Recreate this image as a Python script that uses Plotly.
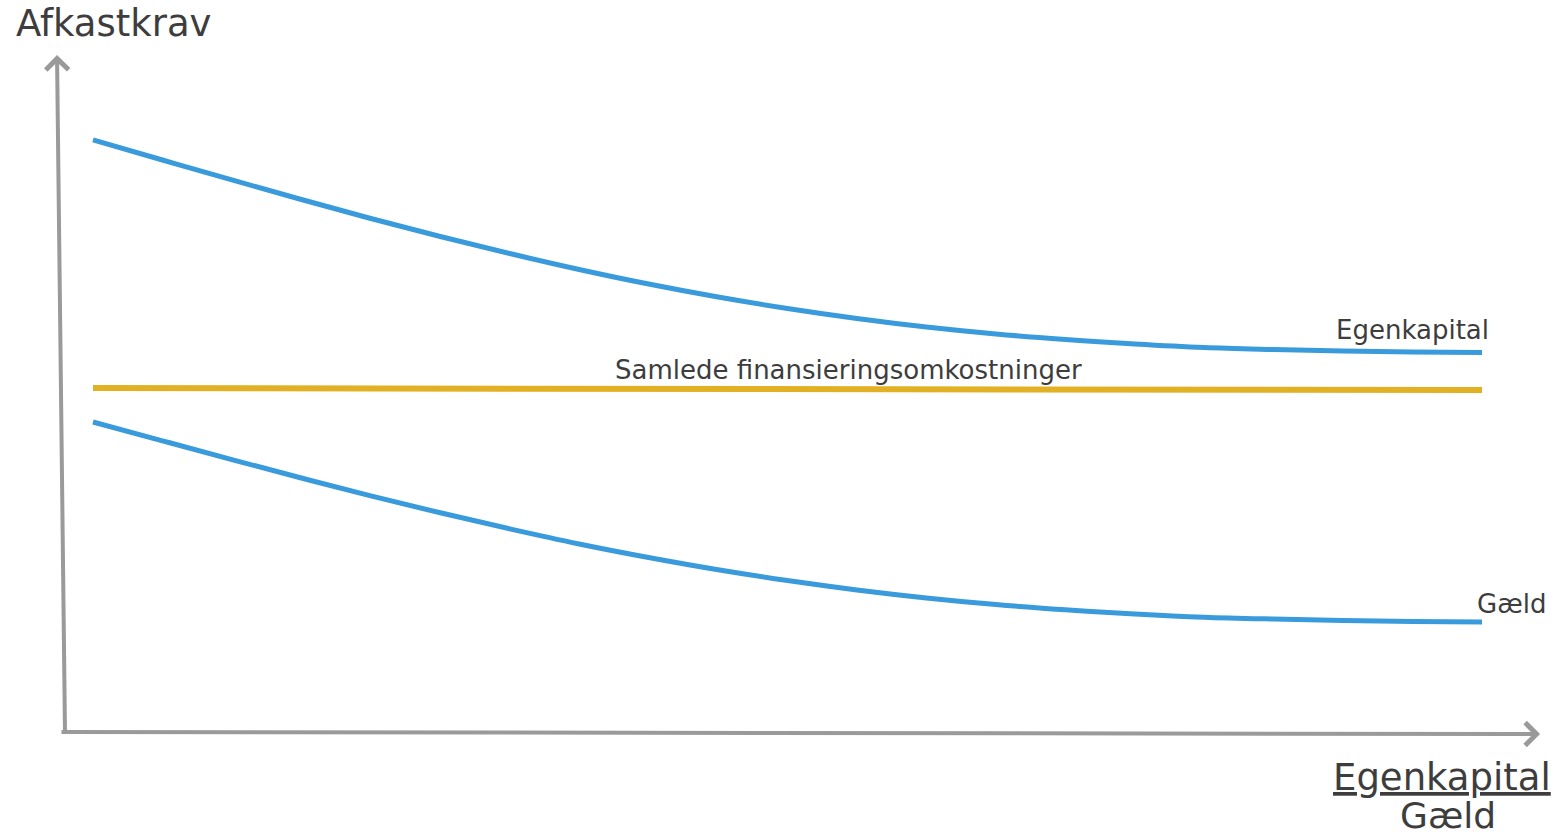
import plotly.graph_objects as go

# ---- data (x: capital structure ratio, y: required return) ----
x_vals = [0, 0.5, 1, 1.5, 2, 2.5, 3, 3.5, 4, 4.5, 5, 5.5, 6, 6.5, 7, 7.5, 8, 8.5, 9, 9.5, 10]
egenkapital = [8.745, 8.449, 8.154, 7.866, 7.585, 7.319, 7.068, 6.832, 6.617, 6.425, 6.256,
               6.108, 5.982, 5.879, 5.798, 5.731, 5.679, 5.650, 5.628, 5.613, 5.606]
gaeld = [4.579, 4.301, 4.024, 3.752, 3.487, 3.238, 3.001, 2.778, 2.578, 2.397, 2.238,
         2.099, 1.981, 1.883, 1.806, 1.744, 1.696, 1.668, 1.647, 1.634, 1.626]
samlede_x = [0, 10]
samlede = [5.08, 5.05]

BLUE = "#3a9bdc"
YELLOW = "#e2b023"
GRAY = "#9a9a9a"
TEXT = "#3d3d3d"
FONT = "DejaVu Sans"

fig = go.Figure()
fig.add_trace(go.Scatter(x=x_vals, y=egenkapital, mode="lines",
                         line=dict(color=BLUE, width=5, shape="spline"), hoverinfo="skip"))
fig.add_trace(go.Scatter(x=samlede_x, y=samlede, mode="lines",
                         line=dict(color=YELLOW, width=6), hoverinfo="skip"))
fig.add_trace(go.Scatter(x=x_vals, y=gaeld, mode="lines",
                         line=dict(color=BLUE, width=5, shape="spline"), hoverinfo="skip"))

annotations = [
    # axis arrows
    dict(x=-0.259, y=10.0, ax=-0.2016, ay=0.0, xref="x", yref="y", axref="x", ayref="y",
         text="", showarrow=True, arrowhead=4, arrowwidth=4, arrowsize=1.1,
         arrowcolor=GRAY, standoff=0, startstandoff=0),
    dict(x=10.418, y=-0.03, ax=-0.2376, ay=0.0, xref="x", yref="y", axref="x", ayref="y",
         text="", showarrow=True, arrowhead=4, arrowwidth=4, arrowsize=1.1,
         arrowcolor=GRAY, standoff=0, startstandoff=0),
    # labels
    dict(x=10.065, y=5.94, xref="x", yref="y", text="Egenkapital", showarrow=False,
         xanchor="right", yanchor="middle", font=dict(family=FONT, size=26, color=TEXT)),
    dict(x=5.44, y=5.35, xref="x", yref="y", text="Samlede finansieringsomkostninger",
         showarrow=False, xanchor="center", yanchor="middle",
         font=dict(family=FONT, size=26, color=TEXT)),
    dict(x=10.475, y=1.89, xref="x", yref="y", text="Gæld", showarrow=False,
         xanchor="right", yanchor="middle", font=dict(family=FONT, size=26, color=TEXT)),
    dict(x=14 / 1561, y=1 - 23 / 836, xref="paper", yref="paper", text="Afkastkrav",
         showarrow=False, xanchor="left", yanchor="middle",
         font=dict(family=FONT, size=37, color=TEXT)),
    dict(x=1441.5 / 1561, y=1 - 777 / 836, xref="paper", yref="paper",
         text="<u>Egenkapital</u>", showarrow=False, xanchor="center",
         yanchor="middle", font=dict(family=FONT, size=37, color=TEXT)),
    dict(x=1447.5 / 1561, y=1 - 815 / 836, xref="paper", yref="paper",
         text="Gæld", showarrow=False, xanchor="center",
         yanchor="middle", font=dict(family=FONT, size=36, color=TEXT)),
]

fig.update_layout(
    width=1561, height=836,
    margin=dict(l=0, r=0, t=0, b=0),
    paper_bgcolor="white", plot_bgcolor="white",
    showlegend=False,
    xaxis=dict(range=[-93 / 138.9, (1561 - 93) / 138.9], visible=False, fixedrange=True),
    yaxis=dict(range=[-(836 - 732) / 67.7, 732 / 67.7], visible=False, fixedrange=True),
    annotations=annotations,
)

fig.write_html("out.html", config={"displayModeBar": False},
               post_script="document.body.style.margin='0';document.body.style.overflow='hidden';")
